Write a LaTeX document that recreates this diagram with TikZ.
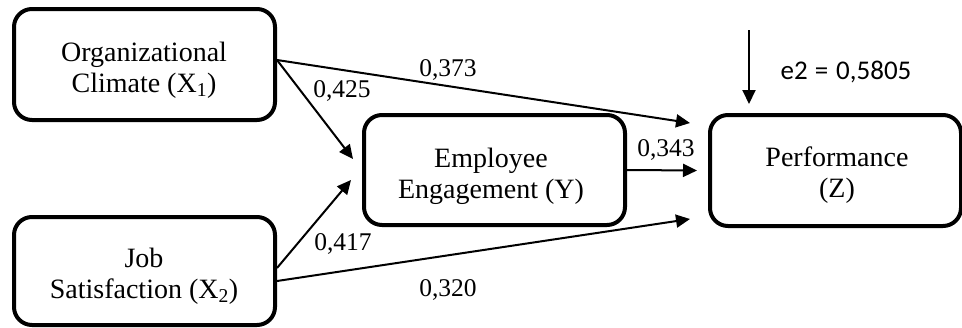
\documentclass[tikz,border=0pt]{standalone}
\usepackage{fontspec}
\setmainfont{Liberation Serif}
\newfontfamily\calib{Carlito}
\usetikzlibrary{arrows.meta}
\begin{document}
\begin{tikzpicture}[x=1pt,y=-1pt,
  box/.style={draw,line width=4pt,rounded corners=18pt,inner sep=0pt},
  boxtext/.style={align=center,font=\fontsize{28}{31}\selectfont,inner sep=0pt},
  coef/.style={font=\fontsize{25.5}{28}\selectfont,inner sep=0pt},
  link/.style={line width=2pt,-{Triangle[length=14pt,width=13pt]}}]
\useasboundingbox (0,0) rectangle (962,327);
\node[box,minimum width=261pt,minimum height=111pt] (org) at (144.5,64.5) {};
\node[box,minimum width=261pt,minimum height=108pt] (job) at (144.5,271) {};
\node[box,minimum width=261pt,minimum height=110pt] (eng) at (494.5,170) {};
\node[box,minimum width=251pt,minimum height=111pt] (perf) at (835.5,170.5) {};
\node[boxtext] (orgt) at (144,70) {Organizational\\Climate (X\textsubscript{1})};
\node[boxtext] (jobt) at (144,276) {Job\\Satisfaction (X\textsubscript{2})};
\node[boxtext] (engt) at (491,176) {Employee\\Engagement (Y)};
\node[boxtext] (perft) at (837,175) {Performance\\(Z)};
\coordinate (e2s) at (749,30);
\draw[link] ([yshift=4.5pt]org.east) -- ([xshift=-9pt,yshift=11pt]eng.west);
\draw[link] ([yshift=4.5pt]org.east) -- ([xshift=-18pt,yshift=47.5pt]perf.west);
\draw[link] ([yshift=3pt]job.east) -- ([xshift=-11pt,yshift=-10pt]eng.west);
\draw[link] ([yshift=-10pt]job.east) -- ([xshift=-18pt,yshift=-48.5pt]perf.west);
\draw[link] (eng.east) -- ([xshift=-11pt]perf.west);
\draw[link] (e2s) -- ([xshift=-86.5pt,yshift=9pt]perf.north);
\node[coef] (c373) at (448,70) {0,373};
\node[coef] (c425) at (342,91) {0,425};
\node[coef] (c343) at (666,150) {0,343};
\node[coef] (c417) at (343,244) {0,417};
\node[coef] (c320) at (448,290) {0,320};
\node[font=\calib\fontsize{27}{31}\selectfont,inner sep=0pt] (e2) at (846,72) {e2\hskip 7pt=\hskip 8pt0,5805};
\end{tikzpicture}
\end{document}
